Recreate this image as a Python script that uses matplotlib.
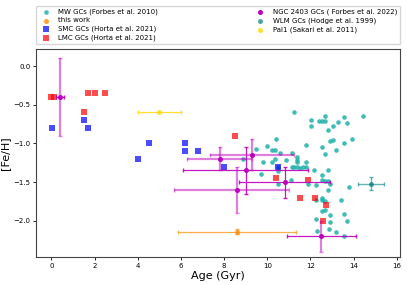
import matplotlib.pyplot as plt
import numpy as np

# MW GCs (Forbes et al. 2010)
mw_age = [11.26, 12.01, 12.01, 12.66, 12.40, 12.54, 12.66, 13.29, 13.05, 12.79,
          13.56, 13.68, 13.93, 13.56, 12.92, 13.05, 12.52, 13.17, 12.66, 11.77,
          10.41, 9.98, 9.50, 10.24, 10.38, 10.61, 10.87, 11.13, 11.38, 10.36,
          9.79, 10.24, 11.38, 11.77, 11.13, 11.26, 11.38, 11.52, 11.64, 11.77,
          10.49, 10.49, 9.70, 12.15, 12.79, 12.54, 12.54, 12.66, 12.80, 12.92,
          11.90, 12.27, 11.12, 10.50, 12.79, 13.80, 12.54, 12.54, 12.27, 12.66,
          13.43, 12.66, 12.54, 12.92, 13.57, 13.70, 12.27, 12.92, 12.88, 12.29,
          13.17, 13.57, 8.89, 14.44, 11.38]
mw_feh = [-0.60, -0.70, -0.77, -0.64, -0.71, -0.71, -0.71, -0.73, -0.78, -0.83,
          -0.66, -0.74, -0.95, -0.99, -0.97, -0.96, -1.05, -1.09, -1.14, -1.02,
          -0.94, -1.03, -1.07, -1.09, -1.09, -1.12, -1.21, -1.13, -1.18, -1.20,
          -1.24, -1.24, -1.24, -1.24, -1.31, -1.31, -1.31, -1.32, -1.31, -1.31,
          -1.31, -1.36, -1.39, -1.34, -1.34, -1.41, -1.47, -1.49, -1.49, -1.53,
          -1.53, -1.54, -1.47, -1.52, -1.60, -1.56, -1.70, -1.73, -1.73, -1.75,
          -1.73, -1.86, -1.88, -1.92, -1.91, -2.00, -1.98, -2.02, -2.11, -2.13,
          -2.15, -2.20, -1.20, -0.64, -1.22]

# this work
tw_age = [8.59]
tw_feh = [-2.14]
tw_age_err = [2.72]
tw_feh_err = [0.03]

# SMC GCs (Horta et al. 2021)
smc_age = [0.05, 1.5, 1.7, 4.0, 4.5, 6.2, 6.2, 6.8, 8.0, 10.5]
smc_feh = [-0.80, -0.70, -0.80, -1.20, -1.00, -1.00, -1.10, -1.10, -1.30, -1.30]

# LMC GCs (Horta et al. 2021)
lmc_age = [0.0, 0.1, 1.5, 1.7, 2.0, 2.5, 8.5, 10.4, 11.9, 11.5, 12.2, 12.7, 12.6]
lmc_feh = [-0.40, -0.40, -0.60, -0.35, -0.35, -0.35, -0.90, -1.45, -1.47,
           -1.70, -1.70, -1.80, -2.00]

# NGC 2403 GCs (Forbes et al. 2022)
ngc_age = [0.40, 7.80, 9.28, 9.00, 10.80, 8.60, 12.50]
ngc_feh = [-0.40, -1.20, -1.15, -1.35, -1.50, -1.60, -2.20]
ngc_age_lo = [0.20, 1.50, 1.95, 2.90, 2.10, 2.90, 1.60]
ngc_age_hi = [0.20, 1.50, 1.95, 2.90, 2.10, 2.40, 1.60]
ngc_feh_err = [0.50, 0.15, 0.20, 0.30, 0.20, 0.30, 0.20]
ngc_xbar_light = [False, True, True, False, False, True, False]
ngc_ybar_light = [True, True, True, False, False, True, True]

# WLM GCs (Hodge et al. 1999)
wlm_age = [14.79]
wlm_feh = [-1.52]
wlm_age_err = [0.60]
wlm_feh_err = [0.08]

# Pal1 (Sakari et al. 2011)
pal_age = [5.0]
pal_feh = [-0.60]
pal_age_err = [1.0]

fig = plt.figure(figsize=(4.07, 2.85), dpi=100)
ax = fig.add_axes([0.088, 0.098, 0.895, 0.729])

# error bars first (no labels, so legend shows markers only)
ax.errorbar(tw_age, tw_feh, xerr=tw_age_err, yerr=tw_feh_err, fmt='none',
            ecolor='darkorange', alpha=0.7, elinewidth=0.9, capsize=1.5)
ax.errorbar(pal_age, pal_feh, xerr=pal_age_err, fmt='none',
            ecolor='gold', alpha=0.8, elinewidth=0.9, capsize=1.5)
ax.errorbar(wlm_age, wlm_feh, xerr=wlm_age_err, yerr=wlm_feh_err, fmt='none',
            ecolor='teal', alpha=0.6, elinewidth=1.0, capsize=1.5)
for i in range(len(ngc_age)):
    xl = ngc_xbar_light[i]
    yl = ngc_ybar_light[i]
    ax.errorbar(ngc_age[i], ngc_feh[i], xerr=[[ngc_age_lo[i]], [ngc_age_hi[i]]],
                fmt='none', ecolor='m', alpha=0.5 if xl else 0.9,
                elinewidth=1.6 if xl else 0.9, capsize=1.5)
    ax.errorbar(ngc_age[i], ngc_feh[i], yerr=ngc_feh_err[i],
                fmt='none', ecolor='m', alpha=0.5 if yl else 0.9,
                elinewidth=1.6 if yl else 0.9, capsize=1.5)

ax.scatter(mw_age, mw_feh, s=11, color='lightseagreen', alpha=0.85, linewidths=0,
           label='MW GCs (Forbes et al. 2010)')
ax.scatter(tw_age, tw_feh, s=13, color='darkorange', alpha=0.8, linewidths=0,
           label='this work')
ax.scatter(smc_age, smc_feh, s=13, marker='s', color='blue', alpha=0.7,
           linewidths=0, label='SMC GCs (Horta et al. 2021)')
ax.scatter(lmc_age, lmc_feh, s=13, marker='s', color='red', alpha=0.7,
           linewidths=0, label='LMC GCs (Horta et al. 2021)')
ax.scatter(ngc_age, ngc_feh, s=13, color='m', linewidths=0, zorder=3,
           label='NGC 2403 GCs ( Forbes et al. 2022)')
ax.scatter(wlm_age, wlm_feh, s=13, color='teal', alpha=0.7, linewidths=0,
           label='WLM GCs (Hodge et al. 1999)')
ax.scatter(pal_age, pal_feh, s=13, color='gold', alpha=0.8, linewidths=0,
           label='Pal1 (Sakari et al. 2011)')

ax.set_xlim(-0.72, 16.15)
ax.set_ylim(-2.47, 0.216)
ax.set_xticks([0, 2, 4, 6, 8, 10, 12, 14, 16])
ax.set_yticks([0.0, -0.5, -1.0, -1.5, -2.0])
ax.tick_params(labelsize=5, length=2, width=0.6, pad=2)
for sp in ax.spines.values():
    sp.set_linewidth(0.8)
    sp.set_color('#444444')

ax.set_xlabel('Age (Gyr)', fontsize=8, labelpad=2)
ax.set_ylabel('[Fe/H]', fontsize=8, labelpad=2)

ax.legend(loc='lower left', bbox_to_anchor=(0, 1.025, 1, 0.2), mode='expand',
          ncol=2, fontsize=5, borderaxespad=0, scatterpoints=1,
          labelspacing=0.35, handletextpad=0.8, frameon=True)

fig.savefig('out.png', dpi=100)
